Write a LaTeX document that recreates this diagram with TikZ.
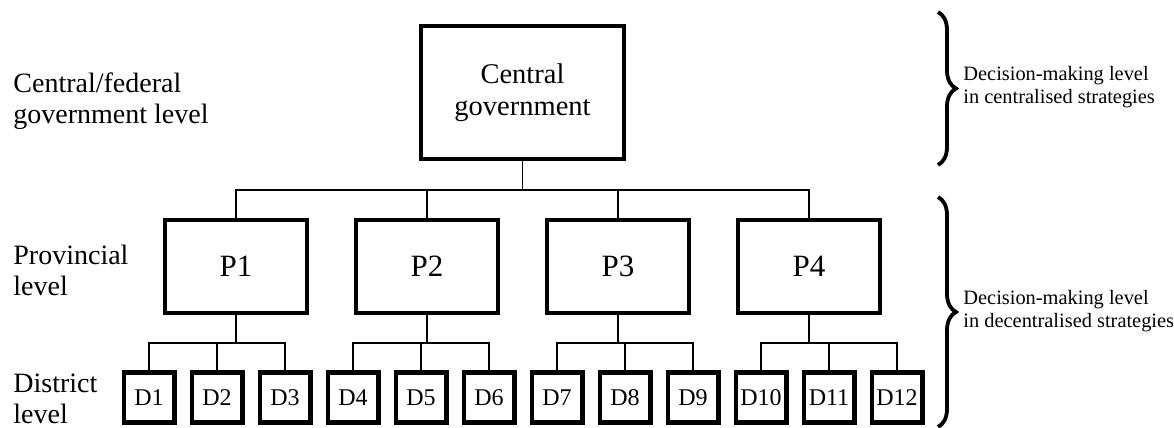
\documentclass[tikz,border=0pt]{standalone}
\usepackage{fontspec}
\setmainfont{Liberation Serif}
\usetikzlibrary{decorations.pathreplacing}

\begin{document}
\begin{tikzpicture}[x=0.5pt,y=-0.5pt,
    ebene/.style={draw, line width=2.2pt, inner sep=0pt, align=center},
    zentral/.style={ebene, minimum width=101.3pt, minimum height=66.3pt, font=\fontsize{14.25}{16}\selectfont},
    provinz/.style={ebene, minimum width=70.8pt, minimum height=46.3pt, font=\fontsize{15.5}{18}\selectfont},
    bezirk/.style={ebene, line width=2.4pt, minimum size=25.1pt, font=\fontsize{12}{14}\selectfont},
    linie/.style={line width=0.8pt},
    klammer/.style={decorate, decoration={brace, amplitude=9pt}, line width=1.9pt},
    ebenentext/.style={anchor=west, inner sep=0pt, align=left, font=\fontsize{14}{15.5}\selectfont},
    hinweis/.style={anchor=west, inner sep=0pt, align=left, font=\fontsize{10.2}{11.5}\selectfont}]

  \useasboundingbox (0,0) rectangle (1174,428);

  % Ebenen (links)
  \node[ebenentext] (lzentral) at (13,101) {Central/federal\\government level};
  \node[ebenentext] (lprovinz) at (13,270.5) {Provincial\\level};
  \node[ebenentext] (lbezirk) at (13,399) {District\\level};

  % Zentralregierung
  \node[zentral] (zentral) at (522.5,92.5) {Central\\government};

  % Provinzen
  \foreach \i in {1,...,4}
    \node[provinz] (p\i) at ({236+191*(\i-1)},266.5) {P\i};

  % Bezirke
  \foreach \i in {1,...,12}
    \node[bezirk] (d\i) at ({149+68*(\i-1)},397.5) {D\i};

  % Verbindungen
  \coordinate (zbus) at (522.5,190);
  \coordinate (dbus) at (0,343);
  \draw[linie] (zentral.south) -- (zbus);
  \foreach \i in {1,...,4}
    \draw[linie] (zbus) -| (p\i.north);

  \foreach \i in {1,...,4} {
    \draw[linie] (p\i.south) -- (p\i.south |- dbus);
    \foreach \k in {1,2,3} {
      \pgfmathtruncatemacro{\j}{3*(\i-1)+\k}
      \draw[linie] (p\i.south |- dbus) -| (d\j.north);
    }
  }

  % Klammern
  \coordinate (k1o) at (938,12);
  \coordinate (k1u) at (938,165);
  \coordinate (k2o) at (938,197);
  \coordinate (k2u) at (938,427);
  \draw[klammer] (k1o) -- (k1u);
  \draw[klammer] (k2o) -- (k2u);

  \node[hinweis] (hzentral) at (963,87) {Decision-making level\\in centralised strategies};
  \node[hinweis] (hdezentral) at (963,311) {Decision-making level\\in decentralised strategies};

\end{tikzpicture}
\end{document}
